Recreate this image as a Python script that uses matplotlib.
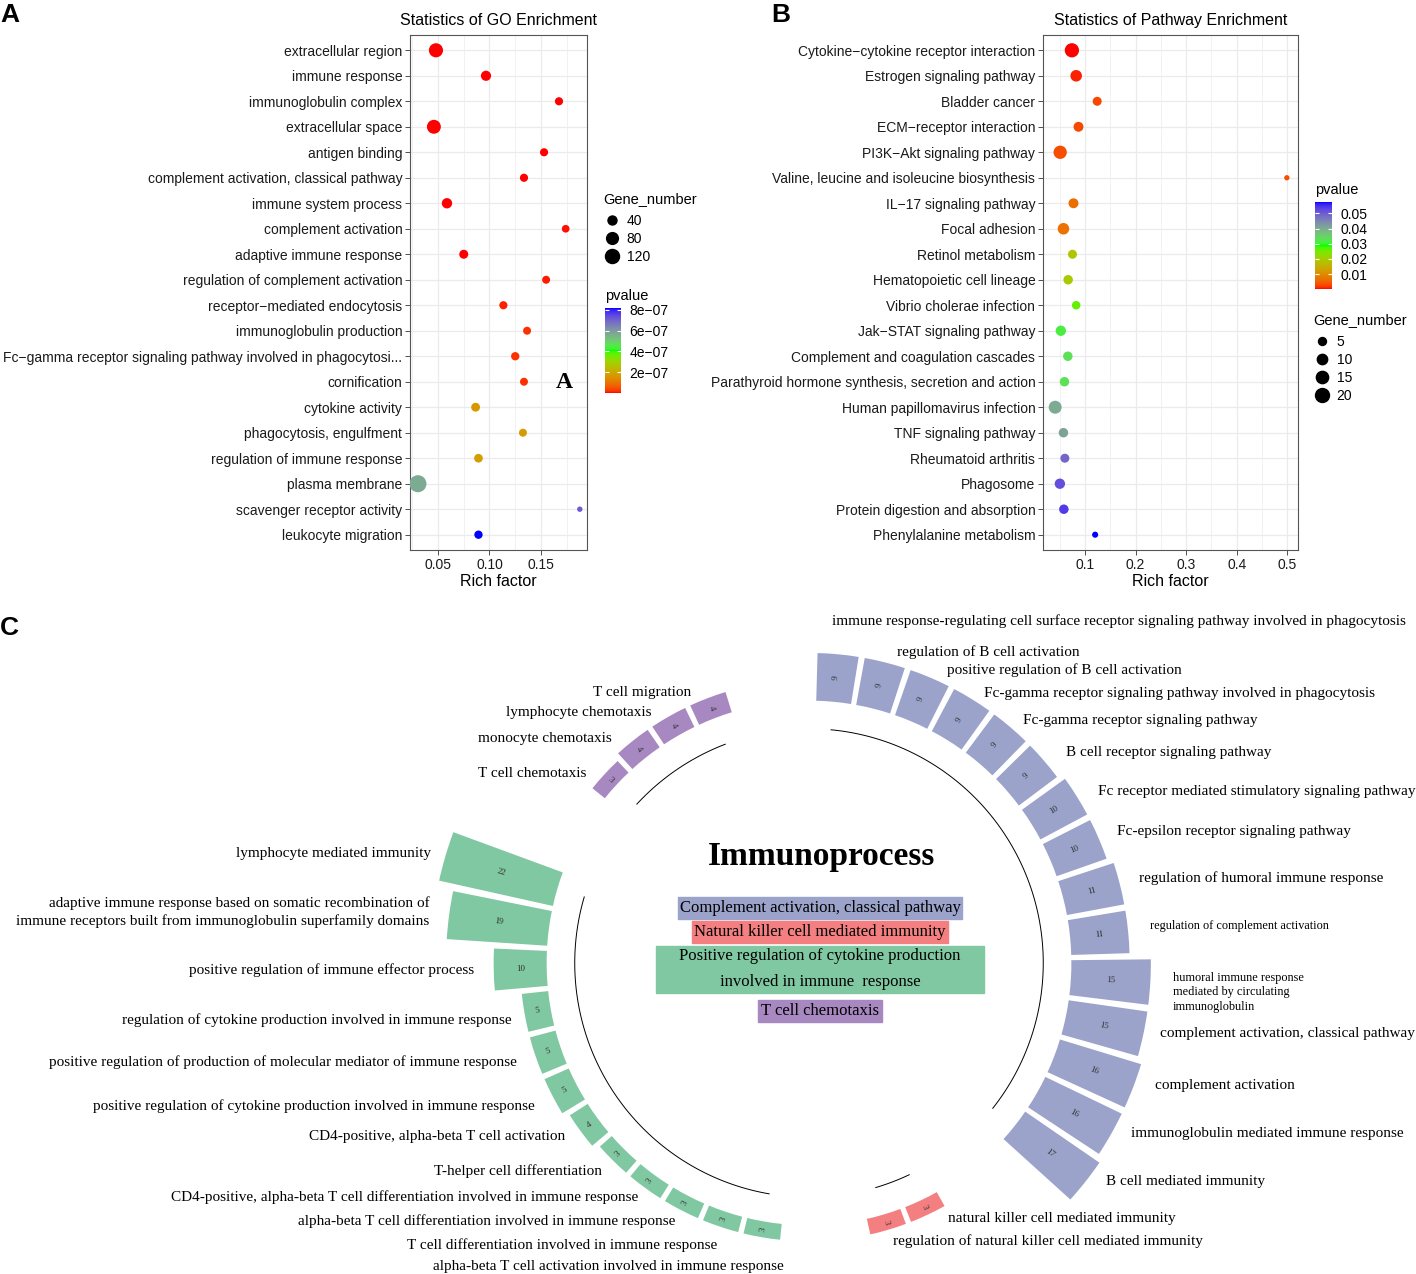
import numpy as np
import matplotlib
matplotlib.use("Agg")
import matplotlib.pyplot as plt
from matplotlib.colors import ListedColormap, Normalize
from matplotlib.cm import ScalarMappable
from matplotlib.lines import Line2D

W, H = 1416, 1274
SANS = "Liberation Sans"
SERIF = "Liberation Serif"
M = "\u2212"

# ---------------- data: panel A (GO) ----------------
go_terms = ["extracellular region", "immune response", "immunoglobulin complex",
            "extracellular space", "antigen binding",
            "complement activation, classical pathway", "immune system process",
            "complement activation", "adaptive immune response",
            "regulation of complement activation",
            "receptor" + M + "mediated endocytosis", "immunoglobulin production",
            "Fc" + M + "gamma receptor signaling pathway involved in phagocytosi...",
            "cornification", "cytokine activity", "phagocytosis, engulfment",
            "regulation of immune response", "plasma membrane",
            "scavenger receptor activity", "leukocyte migration"]
go_rich = [0.048, 0.0966, 0.1675, 0.046, 0.153, 0.1335, 0.0587, 0.174, 0.075, 0.155,
           0.1135, 0.1365, 0.125, 0.1335, 0.0865, 0.1325, 0.0893, 0.0305, 0.1877, 0.0893]
go_genes = [122, 55, 30, 118, 30, 30, 58, 25, 40, 28, 30, 28, 32, 28, 38, 28, 36, 185, 4, 32]
go_pvalue = [1e-20, 1e-12, 1e-10, 1e-19, 5e-10, 2e-09, 1e-11, 5e-09, 1e-10, 8e-09,
             1e-08, 2e-08, 2e-08, 2e-08, 1.62e-07, 1.7e-07, 1.76e-07, 5.7e-07, 7.15e-07, 8.17e-07]
go_size_breaks = [40, 80, 120]
go_p_ticks = [2e-07, 4e-07, 6e-07, 8e-07]
go_p_ticklabels = ["2e" + M + "07", "4e" + M + "07", "6e" + M + "07", "8e" + M + "07"]

# ---------------- data: panel B (KEGG) ----------------
kegg_terms = ["Cytokine" + M + "cytokine receptor interaction", "Estrogen signaling pathway",
              "Bladder cancer", "ECM" + M + "receptor interaction", "PI3K" + M + "Akt signaling pathway",
              "Valine, leucine and isoleucine biosynthesis", "IL" + M + "17 signaling pathway",
              "Focal adhesion", "Retinol metabolism", "Hematopoietic cell lineage",
              "Vibrio cholerae infection", "Jak" + M + "STAT signaling pathway",
              "Complement and coagulation cascades",
              "Parathyroid hormone synthesis, secretion and action",
              "Human papillomavirus infection", "TNF signaling pathway", "Rheumatoid arthritis",
              "Phagosome", "Protein digestion and absorption", "Phenylalanine metabolism"]
kegg_rich = [0.0737, 0.0822, 0.1238, 0.0868, 0.0505, 0.4994, 0.0769, 0.057, 0.0749, 0.0663,
             0.0822, 0.0518, 0.0657, 0.059, 0.0406, 0.057, 0.0598, 0.0499, 0.0578, 0.1198]
kegg_genes = [21, 13, 7, 9, 18, 1, 9, 13, 7, 8, 6, 10, 8, 8, 17, 8, 7, 10, 8, 2]
kegg_pvalue = [0.0001, 0.0008, 0.0029, 0.003, 0.0033, 0.0035, 0.0063, 0.0068, 0.0186, 0.0195,
               0.026, 0.0315, 0.0331, 0.033, 0.0403, 0.041, 0.049, 0.0518, 0.054, 0.0576]
kegg_size_breaks = [5, 10, 15, 20]
kegg_p_ticks = [0.01, 0.02, 0.03, 0.04, 0.05]

# ---------------- data: panel C (circular) ----------------
blue_terms = ["immune response-regulating cell surface receptor signaling pathway involved in phagocytosis",
              "regulation of B cell activation", "positive regulation of B cell activation",
              "Fc-gamma receptor signaling pathway involved in phagocytosis",
              "Fc-gamma receptor signaling pathway", "B cell receptor signaling pathway",
              "Fc receptor mediated stimulatory signaling pathway",
              "Fc-epsilon receptor signaling pathway", "regulation of humoral immune response",
              "regulation of complement activation",
              "humoral immune response\nmediated by circulating\nimmunoglobulin",
              "complement activation, classical pathway", "complement activation",
              "immunoglobulin mediated immune response", "B cell mediated immunity"]
blue_counts = [9, 9, 9, 9, 9, 9, 10, 10, 11, 11, 15, 15, 16, 16, 17]
red_terms = ["natural killer cell mediated immunity",
             "regulation of natural killer cell mediated immunity"]
red_counts = [3, 3]
green_terms = ["alpha-beta T cell activation involved in immune response",
               "T cell differentiation involved in immune response",
               "alpha-beta T cell differentiation involved in immune response",
               "CD4-positive, alpha-beta T cell differentiation involved in immune response",
               "T-helper cell differentiation", "CD4-positive, alpha-beta T cell activation",
               "positive regulation of cytokine production involved in immune response",
               "positive regulation of production of molecular mediator of immune response",
               "regulation of cytokine production involved in immune response",
               "positive regulation of immune effector process",
               "adaptive immune response based on somatic recombination of\nimmune receptors built from immunoglobulin superfamily domains",
               "lymphocyte mediated immunity"]
green_counts = [3, 3, 3, 3, 3, 4, 5, 5, 5, 10, 19, 22]
purple_terms = ["T cell chemotaxis", "monocyte chemotaxis", "lymphocyte chemotaxis", "T cell migration"]
purple_counts = [3, 4, 4, 4]
small_label_terms = ["regulation of complement activation",
                     "humoral immune response\nmediated by circulating\nimmunoglobulin"]

legend_terms = ["Complement activation, classical pathway", "Natural killer cell mediated immunity",
                "Positive regulation of cytokine production\ninvolved in immune  response",
                "T cell chemotaxis"]

BLUE, RED, GREEN, PURPLE = "#9ba3cb", "#f47f80", "#80c8a2", "#a888c0"

# label nudges (pixels out from bar tip, degrees) where labels would crowd
label_nudge = {blue_terms[0]: (33, 1.5), blue_terms[1]: (13, -1.7), blue_terms[2]: (14, -2.3),
               blue_terms[3]: (11, -1.3), blue_terms[4]: (14, -0.9), blue_terms[5]: (22, -1.3),
               blue_terms[6]: (21, -1.3), blue_terms[9]: (22, 0.6), blue_terms[10]: (23, -1.4),
               blue_terms[11]: (16, 0.6), blue_terms[12]: (20, 1.3), blue_terms[13]: (17, 1.6),
               blue_terms[14]: (16, 2.0),
               red_terms[0]: (13, 3.2), red_terms[1]: (12, 0.2),
               green_terms[0]: (26, 5.0), green_terms[1]: (18, 0.5), green_terms[2]: (12, 0.0),
               green_terms[3]: (12, 0.0), green_terms[4]: (15, 0.0), green_terms[5]: (16, -0.8),
               green_terms[8]: (14, 1.0), green_terms[11]: (15, 0.2),
               purple_terms[0]: (14, 2.2), purple_terms[1]: (15, 2.8), purple_terms[2]: (12.5, 2.4),
               purple_terms[3]: (11.5, 2.6)}


# ---------------- Lab colour ramp (red - green - blue, like ggplot) ----------------
XYZ_M = np.array([[0.4124564, 0.3575761, 0.1804375],
                  [0.2126729, 0.7151522, 0.0721750],
                  [0.0193339, 0.1191920, 0.9503041]])
WHITE = np.array([0.95047, 1.0, 1.08883])


def rgb2lab(c):
    c = np.asarray(c, float)
    lin = np.where(c <= 0.04045, c / 12.92, ((c + 0.055) / 1.055) ** 2.4)
    t = XYZ_M @ lin / WHITE
    f = np.where(t > (6 / 29) ** 3, np.cbrt(t), t / (3 * (6 / 29) ** 2) + 4 / 29)
    return np.array([116 * f[1] - 16, 500 * (f[0] - f[1]), 200 * (f[1] - f[2])])


def lab2rgb(lab):
    L, a, b = lab
    fy = (L + 16) / 116
    f = np.array([fy + a / 500, fy, fy - b / 200])
    t = np.where(f > 6 / 29, f ** 3, 3 * (6 / 29) ** 2 * (f - 4 / 29))
    lin = np.clip(np.linalg.inv(XYZ_M) @ (t * WHITE), 0, 1)
    c = np.where(lin <= 0.0031308, 12.92 * lin, 1.055 * lin ** (1 / 2.4) - 0.055)
    return np.clip(c, 0, 1)


stops = [rgb2lab([1, 0, 0]), rgb2lab([0, 1, 0]), rgb2lab([0, 0, 1])]
ramp = []
for t in np.linspace(0, 1, 256):
    if t <= 0.5:
        lab = stops[0] + (stops[1] - stops[0]) * (t / 0.5)
    else:
        lab = stops[1] + (stops[2] - stops[1]) * ((t - 0.5) / 0.5)
    ramp.append(lab2rgb(lab))
cmap = ListedColormap(ramp)


def fig_pt(x, y):
    return x / W, 1 - y / H


fig = plt.figure(figsize=(W / 100, H / 100), dpi=100)


def dot_panel(rect, terms, rich, genes, pvals, xticks, xticklabels, xlim, title, sizef, minor):
    ax = fig.add_axes(rect)
    n = len(terms)
    ypos = np.arange(n, 0, -1)
    norm = Normalize(min(pvals), max(pvals))
    ax.scatter(rich, ypos, s=[sizef(g) for g in genes], c=pvals, cmap=cmap, norm=norm,
               edgecolors="none", zorder=3)
    ax.set_ylim(0.4, n + 0.6)
    ax.set_xlim(*xlim)
    ax.set_yticks(ypos)
    ax.set_yticklabels(terms, fontsize=10, family=SANS, color="#1a1a1a")
    ax.set_xticks(xticks)
    ax.set_xticklabels(xticklabels, fontsize=10, family=SANS, color="#1a1a1a")
    ax.set_xticks(minor, minor=True)
    ax.grid(True, which="major", color="#ebebeb", lw=0.9, zorder=0)
    ax.grid(True, which="minor", axis="x", color="#ebebeb", lw=0.5, zorder=0)
    ax.set_axisbelow(True)
    ax.tick_params(which="major", length=3.5, width=0.6, color="#333333", pad=2)
    ax.tick_params(which="minor", length=0)
    for s in ax.spines.values():
        s.set_color("#555555")
        s.set_linewidth(0.8)
    ax.set_xlabel("Rich factor", fontsize=11.5, family=SANS, labelpad=2)
    ax.set_title(title, fontsize=11.5, family=SANS, pad=7)
    return ax, norm


def go_size(g):
    return 12 + 0.75 * g


def kegg_size(g):
    return 10.3 + 4.53 * g


axA, normA = dot_panel([410 / W, 1 - 550 / H, 177 / W, 515 / H], go_terms, go_rich, go_genes,
                       go_pvalue, [0.05, 0.10, 0.15], ["0.05", "0.10", "0.15"], (0.0228, 0.1947),
                       "Statistics of GO Enrichment", go_size, [0.025, 0.075, 0.125, 0.175])
axA.text(0.87, 0.325, "A", transform=axA.transAxes, fontsize=17, family=SERIF,
         weight="bold", ha="center", va="center")

axB, normB = dot_panel([1043 / W, 1 - 550 / H, 255 / W, 515 / H], kegg_terms, kegg_rich, kegg_genes,
                       kegg_pvalue, [0.1, 0.2, 0.3, 0.4, 0.5], ["0.1", "0.2", "0.3", "0.4", "0.5"],
                       (0.0165, 0.5215), "Statistics of Pathway Enrichment", kegg_size,
                       [0.05, 0.15, 0.25, 0.35, 0.45])


def size_legend(ax, breaks, sizef, x, ytitle, ytop):
    fig.text(x / W, 1 - ytitle / H, "Gene_number", fontsize=10.5, family=SANS, va="center")
    handles = [Line2D([], [], ls="none", marker="o", color="black", markersize=np.sqrt(sizef(b)))
               for b in breaks]
    leg = ax.legend(handles, [str(b) for b in breaks], frameon=False,
                    loc="upper left", bbox_to_anchor=fig_pt(x, ytop), bbox_transform=fig.transFigure,
                    handlelength=1.25, handletextpad=0.45, labelspacing=0.28, borderpad=0,
                    borderaxespad=0, prop={"family": SANS, "size": 10})
    return leg


def colorbar(norm, ticks, labels, x0, y0, x1, y1):
    cax = fig.add_axes([x0 / W, 1 - y1 / H, (x1 - x0) / W, (y1 - y0) / H])
    cb = fig.colorbar(ScalarMappable(norm=norm, cmap=cmap), cax=cax)
    cb.outline.set_visible(False)
    cb.set_ticks(ticks)
    cb.set_ticklabels(labels)
    cax.yaxis.set_ticks_position("both")
    cax.tick_params(direction="in", color="white", length=3, width=0.8, labelsize=10,
                    labelright=True, labelleft=False, pad=6)
    for t in cax.get_yticklabels():
        t.set_family(SANS)
    fig.text(x0 / W, 1 - (y0 - 12) / H, "pvalue", fontsize=10.5, family=SANS, va="center")


size_legend(axA, go_size_breaks, go_size, 603, 199, 214)
colorbar(normA, go_p_ticks, go_p_ticklabels, 605, 308, 621, 393)

colorbar(normB, kegg_p_ticks, [f"{t:.2f}" for t in kegg_p_ticks], 1315, 202, 1332, 289)
size_legend(axB, kegg_size_breaks, kegg_size, 1313, 320, 335)

for lab, (x, y) in zip(["A", "B", "C"], [(0, 3), (771, 3), (0, 616)]):
    fig.text(x / W, 1 - y / H, lab, fontsize=19, family=SANS, weight="bold", va="top", ha="left")

# ---------------- panel C: circular bar chart ----------------
CX, CY = 809, 963          # centre, pixels
PX = 5.3                   # pixels per gene
R0 = 49.5                  # inner radius of bars (genes units)
RA = 44.2                  # radius of group arcs
RH = 470
axC = fig.add_axes([(CX - RH) / W, 1 - (CY + RH) / H, 2 * RH / W, 2 * RH / H], projection="polar")
axC.set_ylim(0, RH / PX)
axC.set_axis_off()

groups = [(blue_terms, blue_counts, BLUE, "left"), (red_terms, red_counts, RED, "left"),
          (green_terms, green_counts, GREEN, "right"), (purple_terms, purple_counts, PURPLE, "right")]
GAP = 2
nslots = sum(len(g[1]) + GAP for g in groups)
slot = 2 * np.pi / nslots
start = np.deg2rad(84.6)

k = 0
for terms, counts, col, ha in groups:
    idx = np.arange(k, k + len(counts))
    theta = start - idx * slot
    axC.bar(theta, counts, width=slot * 0.87, bottom=R0, color=col, edgecolor="none", align="center")
    arc = np.linspace(theta[0], theta[-1], 100)
    axC.plot(arc, np.full_like(arc, RA), color="black", lw=0.7)
    for th, c, term in zip(theta, counts, terms):
        deg = (np.rad2deg(th) + 180) % 360 - 180
        rot = deg if -90 <= deg <= 90 else deg - 180
        axC.text(th, R0 + c / 2, str(c), fontsize=6.5, family=SERIF, color="#333333",
                 rotation=rot, rotation_mode="anchor", ha="center", va="center")
        small = term in small_label_terms
        pad, dth = label_nudge.get(term, (20, 0.0))
        axC.text(th + np.deg2rad(dth), R0 + c + pad / PX, term, fontsize=8.8 if small else 11,
                 family=SERIF, ha=ha, va="center", linespacing=1.25 if small else 1.35)
    k += len(counts) + GAP

fig.text(*fig_pt(822, 857), "Immunoprocess", fontsize=24, family=SERIF, weight="bold",
         ha="center", va="center")

# legend boxes in the centre
box_y = [908, 932, 969, 1011]
box_cols = [BLUE, RED, GREEN, PURPLE]
box_pad = [(2, 3), (2, 3), (23, 3), (3, 3)]
renderer = fig.canvas.get_renderer()
for term, y, col, (padx, pady) in zip(legend_terms, box_y, box_cols, box_pad):
    t = fig.text(*fig_pt(820, y), term, fontsize=12, family=SERIF, ha="center", va="center",
                 multialignment="center", linespacing=1.75, zorder=5)
    bb = t.get_window_extent(renderer)
    fig.patches.append(plt.Rectangle(((bb.x0 - padx) / W, (bb.y0 - pady) / H),
                                     (bb.width + 2 * padx) / W, (bb.height + 2 * pady) / H,
                                     transform=fig.transFigure, color=col, zorder=1))

fig.savefig("out.png", dpi=100)
